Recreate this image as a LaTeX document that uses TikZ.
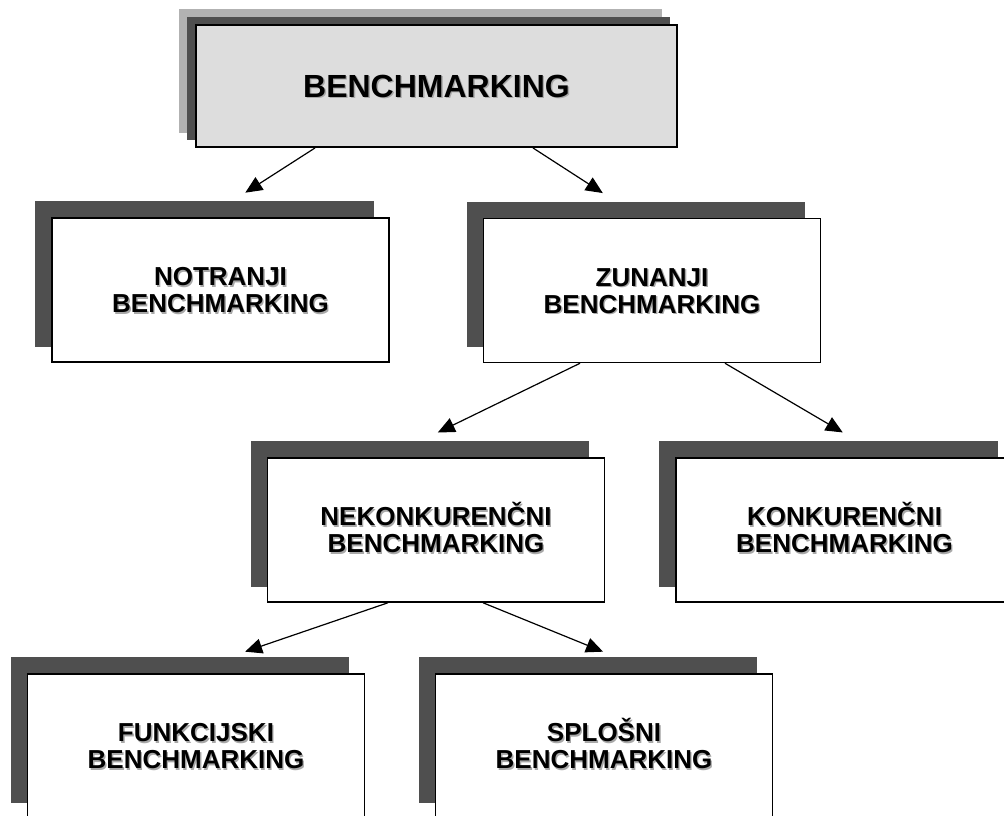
\documentclass[tikz,border=0pt]{standalone}
\usepackage{fontspec}
\setmainfont{Liberation Sans}
\usetikzlibrary{arrows.meta,backgrounds}

\definecolor{shadowdark}{HTML}{4F4F4F}
\definecolor{shadowlight}{HTML}{B2B2B2}
\definecolor{topfill}{HTML}{DDDDDD}
\definecolor{textshade}{HTML}{A8A8A8}

\tikzset{
  box/.style={draw=black, line width=1.5pt, fill=white,
    minimum width=337pt, minimum height=144pt, inner sep=0pt},
  topbox/.style={box, fill=topfill, line width=1.9pt,
    minimum width=481pt, minimum height=122pt},
  lbl/.style={align=center, inner sep=0pt, text height=45.6pt, text depth=0pt,
    font=\bfseries\fontsize{26}{27}\selectfont},
  toplbl/.style={align=center, inner sep=0pt, text height=23pt, text depth=0pt,
    font=\bfseries\fontsize{32}{36}\selectfont},
  arrow/.style={line width=1.2pt, -{Triangle[length=17pt,width=15pt]}},
  flatshadow/.style={fill=shadowdark, draw=none},
}

% label with a soft grey copy behind it
\newcommand\boxlabel[3][lbl]{%
  \node[#1, text=textshade] (#2-shade) at ([xshift=1.4pt,yshift=-1.4pt]#2.center) {#3};
  \node[#1] (#2-text) at (#2.center) {#3};}

% shadow block offset up and to the left of a node
\newcommand\blockshadow[4][flatshadow]{%
  \fill[#1] ([shift={(-#3pt,#4pt)}]#2.south west) rectangle ([shift={(-#3pt,#4pt)}]#2.north east);}

\begin{document}
\begin{tikzpicture}[x=1pt, y=-1pt]
  \useasboundingbox (0,0) rectangle (1004,815);

  % boxes
  \node[topbox] (root) at (436.5,86)  {};
  \node[box]    (notr) at (220.5,290) {};
  \node[box]    (zun)  at (652,290.5) {};
  \node[box]    (nek)  at (436,530)   {};
  \node[box]    (konk) at (844.5,530) {};
  \node[box]    (funk) at (196,746)   {};
  \node[box]    (splo) at (604,746)   {};

  % shadows
  \begin{pgfonlayer}{background}
    \blockshadow[fill=shadowlight]{root}{16}{15}
    \blockshadow{root}{8}{7.5}
    \blockshadow{notr}{16}{16}
    \blockshadow{zun}{16}{16}
    \blockshadow{nek}{16}{16}
    \blockshadow{konk}{16}{16}
    \blockshadow{funk}{16}{16}
    \blockshadow{splo}{16}{16}
  \end{pgfonlayer}

  % connectors
  \draw[arrow, shorten >=45.5pt] ([xshift=-121.5pt]root.south) -- ([xshift=-13.5pt]notr.north);
  \draw[arrow, shorten >=45.5pt] ([xshift=96.5pt]root.south)   -- ([xshift=-11pt]zun.north);
  \draw[arrow, shorten >=56.5pt] ([xshift=-72pt]zun.south)     -- ([xshift=-49pt]nek.north);
  \draw[arrow, shorten >=49pt]   ([xshift=73pt]zun.south)      -- ([xshift=40.5pt]konk.north);
  \draw[arrow, shorten >=66.7pt] ([xshift=-48pt]nek.south)     -- ([xshift=-14pt]funk.north);
  \draw[arrow, shorten >=57.2pt] ([xshift=47pt]nek.south)      -- ([xshift=52pt]splo.north);

  % labels
  \boxlabel[toplbl]{root}{BENCHMARKING}
  \boxlabel{notr}{NOTRANJI\\BENCHMARKING}
  \boxlabel{zun}{ZUNANJI\\BENCHMARKING}
  \boxlabel{nek}{NEKONKURENČNI\\BENCHMARKING}
  \boxlabel{konk}{KONKURENČNI\\BENCHMARKING}
  \boxlabel{funk}{FUNKCIJSKI\\BENCHMARKING}
  \boxlabel{splo}{SPLOŠNI\\BENCHMARKING}
\end{tikzpicture}
\end{document}
